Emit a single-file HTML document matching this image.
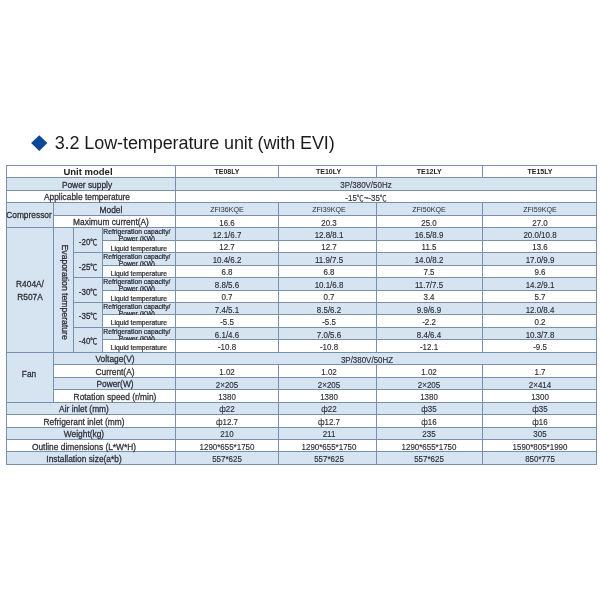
<!DOCTYPE html>
<html lang="en">
<head>
<meta charset="utf-8">
<title>3.2 Low-temperature unit (with EVI)</title>
<style>
html,body{margin:0;padding:0;background:#fff;}
body{width:600px;height:600px;position:relative;overflow:hidden;font-family:"Liberation Sans","Noto Sans CJK SC",sans-serif;color:#2e2e36;}
.page{position:absolute;left:0;top:0;width:600px;height:600px;background:#fff;overflow:hidden;}
.dia{position:absolute;left:31.1px;top:135.2px;width:16.3px;height:15.7px;background:#0c4896;clip-path:polygon(50% 0,100% 50%,50% 100%,0 50%);}
h1{position:absolute;left:54.7px;top:132.3px;margin:0;font-size:18px;line-height:22px;font-weight:400;color:#1c1c1c;white-space:nowrap;letter-spacing:-0.09px;}
.c{position:absolute;box-sizing:border-box;overflow:hidden;}
.hl{position:absolute;height:1px;background:#7890ac;}
.vl{position:absolute;width:1px;background:#7890ac;}
.t{position:absolute;white-space:nowrap;text-align:center;transform-origin:50% 50%;}
.lab{font-size:9.3px;line-height:12.47px;width:160px;margin-left:-80px;transform:scaleX(.9);-webkit-text-stroke:.28px #2e2e36;}
.hd{font-size:9.8px;line-height:12.47px;font-weight:700;width:160px;margin-left:-80px;transform:scaleX(.97);color:#222;}
.dat{font-size:8.7px;line-height:12.47px;width:120px;margin-left:-60px;transform:scaleX(.915);-webkit-text-stroke:.15px #2e2e36;}
.mod{font-size:8px;line-height:12.47px;width:120px;margin-left:-60px;transform:scaleX(.89);}
.th{font-size:7px;line-height:12.47px;font-weight:700;width:120px;margin-left:-60px;color:#222;}
.sm{font-size:6.75px;line-height:7.0px;width:100px;margin-left:-50px;color:#2a2a30;-webkit-text-stroke:.22px #2a2a30;}
.tmp{font-size:9.3px;line-height:24.94px;width:60px;margin-left:-30px;transform:scaleX(.86);-webkit-text-stroke:.28px #2e2e36;}
.dg{font-size:.86em;}
.vt{position:absolute;writing-mode:vertical-rl;white-space:nowrap;font-size:9.3px;line-height:20px;width:20px;text-align:center;transform-origin:50% 50%;transform:scaleY(.93);-webkit-text-stroke:.28px #2e2e36;}
</style>
</head>
<body>
<div class="page">
<div class="dia"></div>
<h1>3.2 Low-temperature unit (with EVI)</h1>
<div class="tbl">

<div class="c" style="left:6.30px;top:165.10px;width:169.00px;height:12.60px;background:#ffffff"></div>
<div class="c" style="left:175.30px;top:165.10px;width:103.45px;height:12.60px;background:#ffffff"></div>
<div class="c" style="left:278.75px;top:165.10px;width:97.25px;height:12.60px;background:#ffffff"></div>
<div class="c" style="left:376.00px;top:165.10px;width:106.50px;height:12.60px;background:#ffffff"></div>
<div class="c" style="left:482.50px;top:165.10px;width:114.30px;height:12.60px;background:#ffffff"></div>
<div class="c" style="left:6.30px;top:177.70px;width:169.00px;height:12.55px;background:#d6e3f1"></div>
<div class="c" style="left:175.30px;top:177.70px;width:421.50px;height:12.55px;background:#d6e3f1"></div>
<div class="c" style="left:6.30px;top:190.25px;width:169.00px;height:12.65px;background:#ffffff"></div>
<div class="c" style="left:175.30px;top:190.25px;width:421.50px;height:12.65px;background:#ffffff"></div>
<div class="c" style="left:6.30px;top:202.90px;width:47.00px;height:24.80px;background:#d6e3f1"></div>
<div class="c" style="left:53.30px;top:202.90px;width:122.00px;height:12.50px;background:#d6e3f1"></div>
<div class="c" style="left:175.30px;top:202.90px;width:103.45px;height:12.50px;background:#d6e3f1"></div>
<div class="c" style="left:278.75px;top:202.90px;width:97.25px;height:12.50px;background:#d6e3f1"></div>
<div class="c" style="left:376.00px;top:202.90px;width:106.50px;height:12.50px;background:#d6e3f1"></div>
<div class="c" style="left:482.50px;top:202.90px;width:114.30px;height:12.50px;background:#d6e3f1"></div>
<div class="c" style="left:53.30px;top:215.40px;width:122.00px;height:12.30px;background:#ffffff"></div>
<div class="c" style="left:175.30px;top:215.40px;width:103.45px;height:12.30px;background:#ffffff"></div>
<div class="c" style="left:278.75px;top:215.40px;width:97.25px;height:12.30px;background:#ffffff"></div>
<div class="c" style="left:376.00px;top:215.40px;width:106.50px;height:12.30px;background:#ffffff"></div>
<div class="c" style="left:482.50px;top:215.40px;width:114.30px;height:12.30px;background:#ffffff"></div>
<div class="c" style="left:6.30px;top:227.70px;width:47.00px;height:124.60px;background:#d6e3f1"></div>
<div class="c" style="left:53.30px;top:227.70px;width:20.20px;height:124.60px;background:#d6e3f1"></div>
<div class="c" style="left:73.50px;top:227.70px;width:28.50px;height:24.92px;background:#d6e3f1"></div>
<div class="c" style="left:73.50px;top:252.62px;width:28.50px;height:24.92px;background:#d6e3f1"></div>
<div class="c" style="left:73.50px;top:277.54px;width:28.50px;height:24.92px;background:#d6e3f1"></div>
<div class="c" style="left:73.50px;top:302.46px;width:28.50px;height:24.92px;background:#d6e3f1"></div>
<div class="c" style="left:73.50px;top:327.38px;width:28.50px;height:24.92px;background:#d6e3f1"></div>
<div class="c" style="left:102.00px;top:227.70px;width:73.30px;height:12.46px;background:#d6e3f1"></div>
<div class="c" style="left:175.30px;top:227.70px;width:103.45px;height:12.46px;background:#d6e3f1"></div>
<div class="c" style="left:278.75px;top:227.70px;width:97.25px;height:12.46px;background:#d6e3f1"></div>
<div class="c" style="left:376.00px;top:227.70px;width:106.50px;height:12.46px;background:#d6e3f1"></div>
<div class="c" style="left:482.50px;top:227.70px;width:114.30px;height:12.46px;background:#d6e3f1"></div>
<div class="c" style="left:102.00px;top:240.16px;width:73.30px;height:12.46px;background:#ffffff"></div>
<div class="c" style="left:175.30px;top:240.16px;width:103.45px;height:12.46px;background:#ffffff"></div>
<div class="c" style="left:278.75px;top:240.16px;width:97.25px;height:12.46px;background:#ffffff"></div>
<div class="c" style="left:376.00px;top:240.16px;width:106.50px;height:12.46px;background:#ffffff"></div>
<div class="c" style="left:482.50px;top:240.16px;width:114.30px;height:12.46px;background:#ffffff"></div>
<div class="c" style="left:102.00px;top:252.62px;width:73.30px;height:12.46px;background:#d6e3f1"></div>
<div class="c" style="left:175.30px;top:252.62px;width:103.45px;height:12.46px;background:#d6e3f1"></div>
<div class="c" style="left:278.75px;top:252.62px;width:97.25px;height:12.46px;background:#d6e3f1"></div>
<div class="c" style="left:376.00px;top:252.62px;width:106.50px;height:12.46px;background:#d6e3f1"></div>
<div class="c" style="left:482.50px;top:252.62px;width:114.30px;height:12.46px;background:#d6e3f1"></div>
<div class="c" style="left:102.00px;top:265.08px;width:73.30px;height:12.46px;background:#ffffff"></div>
<div class="c" style="left:175.30px;top:265.08px;width:103.45px;height:12.46px;background:#ffffff"></div>
<div class="c" style="left:278.75px;top:265.08px;width:97.25px;height:12.46px;background:#ffffff"></div>
<div class="c" style="left:376.00px;top:265.08px;width:106.50px;height:12.46px;background:#ffffff"></div>
<div class="c" style="left:482.50px;top:265.08px;width:114.30px;height:12.46px;background:#ffffff"></div>
<div class="c" style="left:102.00px;top:277.54px;width:73.30px;height:12.46px;background:#d6e3f1"></div>
<div class="c" style="left:175.30px;top:277.54px;width:103.45px;height:12.46px;background:#d6e3f1"></div>
<div class="c" style="left:278.75px;top:277.54px;width:97.25px;height:12.46px;background:#d6e3f1"></div>
<div class="c" style="left:376.00px;top:277.54px;width:106.50px;height:12.46px;background:#d6e3f1"></div>
<div class="c" style="left:482.50px;top:277.54px;width:114.30px;height:12.46px;background:#d6e3f1"></div>
<div class="c" style="left:102.00px;top:290.00px;width:73.30px;height:12.46px;background:#ffffff"></div>
<div class="c" style="left:175.30px;top:290.00px;width:103.45px;height:12.46px;background:#ffffff"></div>
<div class="c" style="left:278.75px;top:290.00px;width:97.25px;height:12.46px;background:#ffffff"></div>
<div class="c" style="left:376.00px;top:290.00px;width:106.50px;height:12.46px;background:#ffffff"></div>
<div class="c" style="left:482.50px;top:290.00px;width:114.30px;height:12.46px;background:#ffffff"></div>
<div class="c" style="left:102.00px;top:302.46px;width:73.30px;height:12.46px;background:#d6e3f1"></div>
<div class="c" style="left:175.30px;top:302.46px;width:103.45px;height:12.46px;background:#d6e3f1"></div>
<div class="c" style="left:278.75px;top:302.46px;width:97.25px;height:12.46px;background:#d6e3f1"></div>
<div class="c" style="left:376.00px;top:302.46px;width:106.50px;height:12.46px;background:#d6e3f1"></div>
<div class="c" style="left:482.50px;top:302.46px;width:114.30px;height:12.46px;background:#d6e3f1"></div>
<div class="c" style="left:102.00px;top:314.92px;width:73.30px;height:12.46px;background:#ffffff"></div>
<div class="c" style="left:175.30px;top:314.92px;width:103.45px;height:12.46px;background:#ffffff"></div>
<div class="c" style="left:278.75px;top:314.92px;width:97.25px;height:12.46px;background:#ffffff"></div>
<div class="c" style="left:376.00px;top:314.92px;width:106.50px;height:12.46px;background:#ffffff"></div>
<div class="c" style="left:482.50px;top:314.92px;width:114.30px;height:12.46px;background:#ffffff"></div>
<div class="c" style="left:102.00px;top:327.38px;width:73.30px;height:12.46px;background:#d6e3f1"></div>
<div class="c" style="left:175.30px;top:327.38px;width:103.45px;height:12.46px;background:#d6e3f1"></div>
<div class="c" style="left:278.75px;top:327.38px;width:97.25px;height:12.46px;background:#d6e3f1"></div>
<div class="c" style="left:376.00px;top:327.38px;width:106.50px;height:12.46px;background:#d6e3f1"></div>
<div class="c" style="left:482.50px;top:327.38px;width:114.30px;height:12.46px;background:#d6e3f1"></div>
<div class="c" style="left:102.00px;top:339.84px;width:73.30px;height:12.46px;background:#ffffff"></div>
<div class="c" style="left:175.30px;top:339.84px;width:103.45px;height:12.46px;background:#ffffff"></div>
<div class="c" style="left:278.75px;top:339.84px;width:97.25px;height:12.46px;background:#ffffff"></div>
<div class="c" style="left:376.00px;top:339.84px;width:106.50px;height:12.46px;background:#ffffff"></div>
<div class="c" style="left:482.50px;top:339.84px;width:114.30px;height:12.46px;background:#ffffff"></div>
<div class="c" style="left:6.30px;top:352.30px;width:47.00px;height:49.84px;background:#d6e3f1"></div>
<div class="c" style="left:53.30px;top:352.30px;width:122.00px;height:12.46px;background:#d6e3f1"></div>
<div class="c" style="left:175.30px;top:352.30px;width:421.50px;height:12.46px;background:#d6e3f1"></div>
<div class="c" style="left:53.30px;top:364.76px;width:122.00px;height:12.46px;background:#ffffff"></div>
<div class="c" style="left:175.30px;top:364.76px;width:103.45px;height:12.46px;background:#ffffff"></div>
<div class="c" style="left:278.75px;top:364.76px;width:97.25px;height:12.46px;background:#ffffff"></div>
<div class="c" style="left:376.00px;top:364.76px;width:106.50px;height:12.46px;background:#ffffff"></div>
<div class="c" style="left:482.50px;top:364.76px;width:114.30px;height:12.46px;background:#ffffff"></div>
<div class="c" style="left:53.30px;top:377.22px;width:122.00px;height:12.46px;background:#d6e3f1"></div>
<div class="c" style="left:175.30px;top:377.22px;width:103.45px;height:12.46px;background:#d6e3f1"></div>
<div class="c" style="left:278.75px;top:377.22px;width:97.25px;height:12.46px;background:#d6e3f1"></div>
<div class="c" style="left:376.00px;top:377.22px;width:106.50px;height:12.46px;background:#d6e3f1"></div>
<div class="c" style="left:482.50px;top:377.22px;width:114.30px;height:12.46px;background:#d6e3f1"></div>
<div class="c" style="left:53.30px;top:389.68px;width:122.00px;height:12.46px;background:#ffffff"></div>
<div class="c" style="left:175.30px;top:389.68px;width:103.45px;height:12.46px;background:#ffffff"></div>
<div class="c" style="left:278.75px;top:389.68px;width:97.25px;height:12.46px;background:#ffffff"></div>
<div class="c" style="left:376.00px;top:389.68px;width:106.50px;height:12.46px;background:#ffffff"></div>
<div class="c" style="left:482.50px;top:389.68px;width:114.30px;height:12.46px;background:#ffffff"></div>
<div class="c" style="left:6.30px;top:402.14px;width:169.00px;height:12.46px;background:#d6e3f1"></div>
<div class="c" style="left:175.30px;top:402.14px;width:103.45px;height:12.46px;background:#d6e3f1"></div>
<div class="c" style="left:278.75px;top:402.14px;width:97.25px;height:12.46px;background:#d6e3f1"></div>
<div class="c" style="left:376.00px;top:402.14px;width:106.50px;height:12.46px;background:#d6e3f1"></div>
<div class="c" style="left:482.50px;top:402.14px;width:114.30px;height:12.46px;background:#d6e3f1"></div>
<div class="c" style="left:6.30px;top:414.60px;width:169.00px;height:12.46px;background:#ffffff"></div>
<div class="c" style="left:175.30px;top:414.60px;width:103.45px;height:12.46px;background:#ffffff"></div>
<div class="c" style="left:278.75px;top:414.60px;width:97.25px;height:12.46px;background:#ffffff"></div>
<div class="c" style="left:376.00px;top:414.60px;width:106.50px;height:12.46px;background:#ffffff"></div>
<div class="c" style="left:482.50px;top:414.60px;width:114.30px;height:12.46px;background:#ffffff"></div>
<div class="c" style="left:6.30px;top:427.06px;width:169.00px;height:12.46px;background:#d6e3f1"></div>
<div class="c" style="left:175.30px;top:427.06px;width:103.45px;height:12.46px;background:#d6e3f1"></div>
<div class="c" style="left:278.75px;top:427.06px;width:97.25px;height:12.46px;background:#d6e3f1"></div>
<div class="c" style="left:376.00px;top:427.06px;width:106.50px;height:12.46px;background:#d6e3f1"></div>
<div class="c" style="left:482.50px;top:427.06px;width:114.30px;height:12.46px;background:#d6e3f1"></div>
<div class="c" style="left:6.30px;top:439.52px;width:169.00px;height:12.46px;background:#ffffff"></div>
<div class="c" style="left:175.30px;top:439.52px;width:103.45px;height:12.46px;background:#ffffff"></div>
<div class="c" style="left:278.75px;top:439.52px;width:97.25px;height:12.46px;background:#ffffff"></div>
<div class="c" style="left:376.00px;top:439.52px;width:106.50px;height:12.46px;background:#ffffff"></div>
<div class="c" style="left:482.50px;top:439.52px;width:114.30px;height:12.46px;background:#ffffff"></div>
<div class="c" style="left:6.30px;top:451.98px;width:169.00px;height:12.46px;background:#d6e3f1"></div>
<div class="c" style="left:175.30px;top:451.98px;width:103.45px;height:12.46px;background:#d6e3f1"></div>
<div class="c" style="left:278.75px;top:451.98px;width:97.25px;height:12.46px;background:#d6e3f1"></div>
<div class="c" style="left:376.00px;top:451.98px;width:106.50px;height:12.46px;background:#d6e3f1"></div>
<div class="c" style="left:482.50px;top:451.98px;width:114.30px;height:12.46px;background:#d6e3f1"></div>
<div class="hl" style="left:5.80px;top:164.60px;width:591.50px"></div>
<div class="hl" style="left:5.80px;top:177.20px;width:591.50px"></div>
<div class="hl" style="left:5.80px;top:189.75px;width:591.50px"></div>
<div class="hl" style="left:5.80px;top:202.40px;width:591.50px"></div>
<div class="hl" style="left:52.80px;top:214.90px;width:544.50px"></div>
<div class="hl" style="left:5.80px;top:227.20px;width:591.50px"></div>
<div class="hl" style="left:101.50px;top:239.66px;width:495.80px"></div>
<div class="hl" style="left:73.00px;top:252.12px;width:524.30px"></div>
<div class="hl" style="left:101.50px;top:264.58px;width:495.80px"></div>
<div class="hl" style="left:73.00px;top:277.04px;width:524.30px"></div>
<div class="hl" style="left:101.50px;top:289.50px;width:495.80px"></div>
<div class="hl" style="left:73.00px;top:301.96px;width:524.30px"></div>
<div class="hl" style="left:101.50px;top:314.42px;width:495.80px"></div>
<div class="hl" style="left:73.00px;top:326.88px;width:524.30px"></div>
<div class="hl" style="left:101.50px;top:339.34px;width:495.80px"></div>
<div class="hl" style="left:5.80px;top:351.80px;width:591.50px"></div>
<div class="hl" style="left:52.80px;top:364.26px;width:544.50px"></div>
<div class="hl" style="left:52.80px;top:376.72px;width:544.50px"></div>
<div class="hl" style="left:52.80px;top:389.18px;width:544.50px"></div>
<div class="hl" style="left:5.80px;top:401.64px;width:591.50px"></div>
<div class="hl" style="left:5.80px;top:414.10px;width:591.50px"></div>
<div class="hl" style="left:5.80px;top:426.56px;width:591.50px"></div>
<div class="hl" style="left:5.80px;top:439.02px;width:591.50px"></div>
<div class="hl" style="left:5.80px;top:451.48px;width:591.50px"></div>
<div class="hl" style="left:5.80px;top:463.94px;width:591.50px"></div>
<div class="vl" style="left:5.80px;top:164.60px;height:300.34px"></div>
<div class="vl" style="left:52.80px;top:202.40px;height:200.24px"></div>
<div class="vl" style="left:73.00px;top:227.20px;height:125.60px"></div>
<div class="vl" style="left:101.50px;top:227.20px;height:125.60px"></div>
<div class="vl" style="left:174.80px;top:164.60px;height:300.34px"></div>
<div class="vl" style="left:278.25px;top:164.60px;height:13.60px"></div>
<div class="vl" style="left:278.25px;top:202.40px;height:150.40px"></div>
<div class="vl" style="left:278.25px;top:364.26px;height:100.68px"></div>
<div class="vl" style="left:375.50px;top:164.60px;height:13.60px"></div>
<div class="vl" style="left:375.50px;top:202.40px;height:150.40px"></div>
<div class="vl" style="left:375.50px;top:364.26px;height:100.68px"></div>
<div class="vl" style="left:482.00px;top:164.60px;height:13.60px"></div>
<div class="vl" style="left:482.00px;top:202.40px;height:150.40px"></div>
<div class="vl" style="left:482.00px;top:364.26px;height:100.68px"></div>
<div class="vl" style="left:596.30px;top:164.60px;height:300.34px"></div>
<div class="t hd" style="left:87.50px;top:165.70px">Unit model</div>
<div class="t th" style="left:227.03px;top:165.70px">TE08LY</div>
<div class="t th" style="left:328.57px;top:165.70px">TE10LY</div>
<div class="t th" style="left:429.25px;top:165.70px">TE12LY</div>
<div class="t th" style="left:540.00px;top:165.70px">TE15LY</div>
<div class="t lab" style="left:86.80px;top:178.70px">Power supply</div>
<div class="t dat" style="left:366.20px;top:179.00px">3P/380V/50Hz</div>
<div class="t lab" style="left:86.50px;top:191.25px">Applicable temperature</div>
<div class="t dat" style="left:365.80px;top:191.55px">-15<span class="dg">℃</span>~-35<span class="dg">℃</span></div>
<div class="t lab" style="left:29.40px;top:209.14px">Compressor</div>
<div class="t lab" style="left:111.30px;top:203.90px">Model</div>
<div class="t mod" style="left:227.03px;top:204.20px">ZFI36KQE</div>
<div class="t mod" style="left:328.57px;top:204.20px">ZFI39KQE</div>
<div class="t mod" style="left:429.25px;top:204.20px">ZFI50KQE</div>
<div class="t mod" style="left:540.00px;top:204.20px">ZFI59KQE</div>
<div class="t lab" style="left:111.40px;top:216.40px">Maximum current(A)</div>
<div class="t dat" style="left:227.03px;top:216.70px">16.6</div>
<div class="t dat" style="left:328.57px;top:216.70px">20.3</div>
<div class="t dat" style="left:429.25px;top:216.70px">25.0</div>
<div class="t dat" style="left:540.00px;top:216.70px">27.0</div>
<div class="t lab" style="left:29.90px;top:278.00px">R404A/</div>
<div class="t lab" style="left:30.00px;top:290.80px">R507A</div>
<div class="vt" style="left:54.60px;top:232.00px;height:120.00px">Evaporation temperature</div>
<div class="t tmp" style="left:88.40px;top:229.70px">-20<span class="dg">℃</span></div>
<div class="c" style="left:102.50px;top:228.20px;width:72.30px;height:12.47px"><div class="t sm" style="left:34.40px;top:-0.20px">Refrigeration capacity/<br>Power (KW)</div></div>
<div class="t sm" style="left:138.80px;top:244.66px">Liquid temperature</div>
<div class="t tmp" style="left:88.40px;top:254.62px">-25<span class="dg">℃</span></div>
<div class="c" style="left:102.50px;top:253.12px;width:72.30px;height:12.47px"><div class="t sm" style="left:34.40px;top:-0.20px">Refrigeration capacity/<br>Power (KW)</div></div>
<div class="t sm" style="left:138.80px;top:269.58px">Liquid temperature</div>
<div class="t tmp" style="left:88.40px;top:279.54px">-30<span class="dg">℃</span></div>
<div class="c" style="left:102.50px;top:278.04px;width:72.30px;height:12.47px"><div class="t sm" style="left:34.40px;top:-0.20px">Refrigeration capacity/<br>Power (KW)</div></div>
<div class="t sm" style="left:138.80px;top:294.50px">Liquid temperature</div>
<div class="t tmp" style="left:88.40px;top:304.46px">-35<span class="dg">℃</span></div>
<div class="c" style="left:102.50px;top:302.96px;width:72.30px;height:12.47px"><div class="t sm" style="left:34.40px;top:-0.20px">Refrigeration capacity/<br>Power (KW)</div></div>
<div class="t sm" style="left:138.80px;top:319.42px">Liquid temperature</div>
<div class="t tmp" style="left:88.40px;top:329.38px">-40<span class="dg">℃</span></div>
<div class="c" style="left:102.50px;top:327.88px;width:72.30px;height:12.47px"><div class="t sm" style="left:34.40px;top:-0.20px">Refrigeration capacity/<br>Power (KW)</div></div>
<div class="t sm" style="left:138.80px;top:344.34px">Liquid temperature</div>
<div class="t dat" style="left:227.03px;top:229.00px">12.1/6.7</div>
<div class="t dat" style="left:328.57px;top:229.00px">12.8/8.1</div>
<div class="t dat" style="left:429.25px;top:229.00px">16.5/8.9</div>
<div class="t dat" style="left:540.00px;top:229.00px">20.0/10.8</div>
<div class="t dat" style="left:227.03px;top:241.46px">12.7</div>
<div class="t dat" style="left:328.57px;top:241.46px">12.7</div>
<div class="t dat" style="left:429.25px;top:241.46px">11.5</div>
<div class="t dat" style="left:540.00px;top:241.46px">13.6</div>
<div class="t dat" style="left:227.03px;top:253.92px">10.4/6.2</div>
<div class="t dat" style="left:328.57px;top:253.92px">11.9/7.5</div>
<div class="t dat" style="left:429.25px;top:253.92px">14.0/8.2</div>
<div class="t dat" style="left:540.00px;top:253.92px">17.0/9.9</div>
<div class="t dat" style="left:227.03px;top:266.38px">6.8</div>
<div class="t dat" style="left:328.57px;top:266.38px">6.8</div>
<div class="t dat" style="left:429.25px;top:266.38px">7.5</div>
<div class="t dat" style="left:540.00px;top:266.38px">9.6</div>
<div class="t dat" style="left:227.03px;top:278.84px">8.8/5.6</div>
<div class="t dat" style="left:328.57px;top:278.84px">10.1/6.8</div>
<div class="t dat" style="left:429.25px;top:278.84px">11.7/7.5</div>
<div class="t dat" style="left:540.00px;top:278.84px">14.2/9.1</div>
<div class="t dat" style="left:227.03px;top:291.30px">0.7</div>
<div class="t dat" style="left:328.57px;top:291.30px">0.7</div>
<div class="t dat" style="left:429.25px;top:291.30px">3.4</div>
<div class="t dat" style="left:540.00px;top:291.30px">5.7</div>
<div class="t dat" style="left:227.03px;top:303.76px">7.4/5.1</div>
<div class="t dat" style="left:328.57px;top:303.76px">8.5/6.2</div>
<div class="t dat" style="left:429.25px;top:303.76px">9.9/6.9</div>
<div class="t dat" style="left:540.00px;top:303.76px">12.0/8.4</div>
<div class="t dat" style="left:227.03px;top:316.22px">-5.5</div>
<div class="t dat" style="left:328.57px;top:316.22px">-5.5</div>
<div class="t dat" style="left:429.25px;top:316.22px">-2.2</div>
<div class="t dat" style="left:540.00px;top:316.22px">0.2</div>
<div class="t dat" style="left:227.03px;top:328.68px">6.1/4.6</div>
<div class="t dat" style="left:328.57px;top:328.68px">7.0/5.6</div>
<div class="t dat" style="left:429.25px;top:328.68px">8.4/6.4</div>
<div class="t dat" style="left:540.00px;top:328.68px">10.3/7.8</div>
<div class="t dat" style="left:227.03px;top:341.14px">-10.8</div>
<div class="t dat" style="left:328.57px;top:341.14px">-10.8</div>
<div class="t dat" style="left:429.25px;top:341.14px">-12.1</div>
<div class="t dat" style="left:540.00px;top:341.14px">-9.5</div>
<div class="t lab" style="left:29.10px;top:367.81px">Fan</div>
<div class="t lab" style="left:114.75px;top:353.30px">Voltage(V)</div>
<div class="t dat" style="left:366.50px;top:353.60px">3P/380V/50HZ</div>
<div class="t lab" style="left:114.60px;top:365.76px">Current(A)</div>
<div class="t dat" style="left:227.03px;top:366.06px">1.02</div>
<div class="t dat" style="left:328.57px;top:366.06px">1.02</div>
<div class="t dat" style="left:429.25px;top:366.06px">1.02</div>
<div class="t dat" style="left:540.00px;top:366.06px">1.7</div>
<div class="t lab" style="left:114.60px;top:378.22px">Power(W)</div>
<div class="t dat" style="left:227.03px;top:378.52px">2×205</div>
<div class="t dat" style="left:328.57px;top:378.52px">2×205</div>
<div class="t dat" style="left:429.25px;top:378.52px">2×205</div>
<div class="t dat" style="left:540.00px;top:378.52px">2×414</div>
<div class="t lab" style="left:114.60px;top:390.68px">Rotation speed (r/min)</div>
<div class="t dat" style="left:227.03px;top:390.98px">1380</div>
<div class="t dat" style="left:328.57px;top:390.98px">1380</div>
<div class="t dat" style="left:429.25px;top:390.98px">1380</div>
<div class="t dat" style="left:540.00px;top:390.98px">1300</div>
<div class="t lab" style="left:84.10px;top:403.14px">Air inlet (mm)</div>
<div class="t dat" style="left:227.03px;top:403.44px">ф22</div>
<div class="t dat" style="left:328.57px;top:403.44px">ф22</div>
<div class="t dat" style="left:429.25px;top:403.44px">ф35</div>
<div class="t dat" style="left:540.00px;top:403.44px">ф35</div>
<div class="t lab" style="left:84.10px;top:415.60px">Refrigerant inlet (mm)</div>
<div class="t dat" style="left:227.03px;top:415.90px">ф12.7</div>
<div class="t dat" style="left:328.57px;top:415.90px">ф12.7</div>
<div class="t dat" style="left:429.25px;top:415.90px">ф16</div>
<div class="t dat" style="left:540.00px;top:415.90px">ф16</div>
<div class="t lab" style="left:84.10px;top:428.06px">Weight(kg)</div>
<div class="t dat" style="left:227.03px;top:428.36px">210</div>
<div class="t dat" style="left:328.57px;top:428.36px">211</div>
<div class="t dat" style="left:429.25px;top:428.36px">235</div>
<div class="t dat" style="left:540.00px;top:428.36px">305</div>
<div class="t lab" style="left:84.10px;top:440.52px">Outline dimensions (L*W*H)</div>
<div class="t dat" style="left:227.03px;top:440.82px">1290*655*1750</div>
<div class="t dat" style="left:328.57px;top:440.82px">1290*655*1750</div>
<div class="t dat" style="left:429.25px;top:440.82px">1290*655*1750</div>
<div class="t dat" style="left:540.00px;top:440.82px">1590*805*1990</div>
<div class="t lab" style="left:84.10px;top:452.98px">Installation size(a*b)</div>
<div class="t dat" style="left:227.03px;top:453.28px">557*625</div>
<div class="t dat" style="left:328.57px;top:453.28px">557*625</div>
<div class="t dat" style="left:429.25px;top:453.28px">557*625</div>
<div class="t dat" style="left:540.00px;top:453.28px">850*775</div>
</div>
</div>
</body>
</html>
